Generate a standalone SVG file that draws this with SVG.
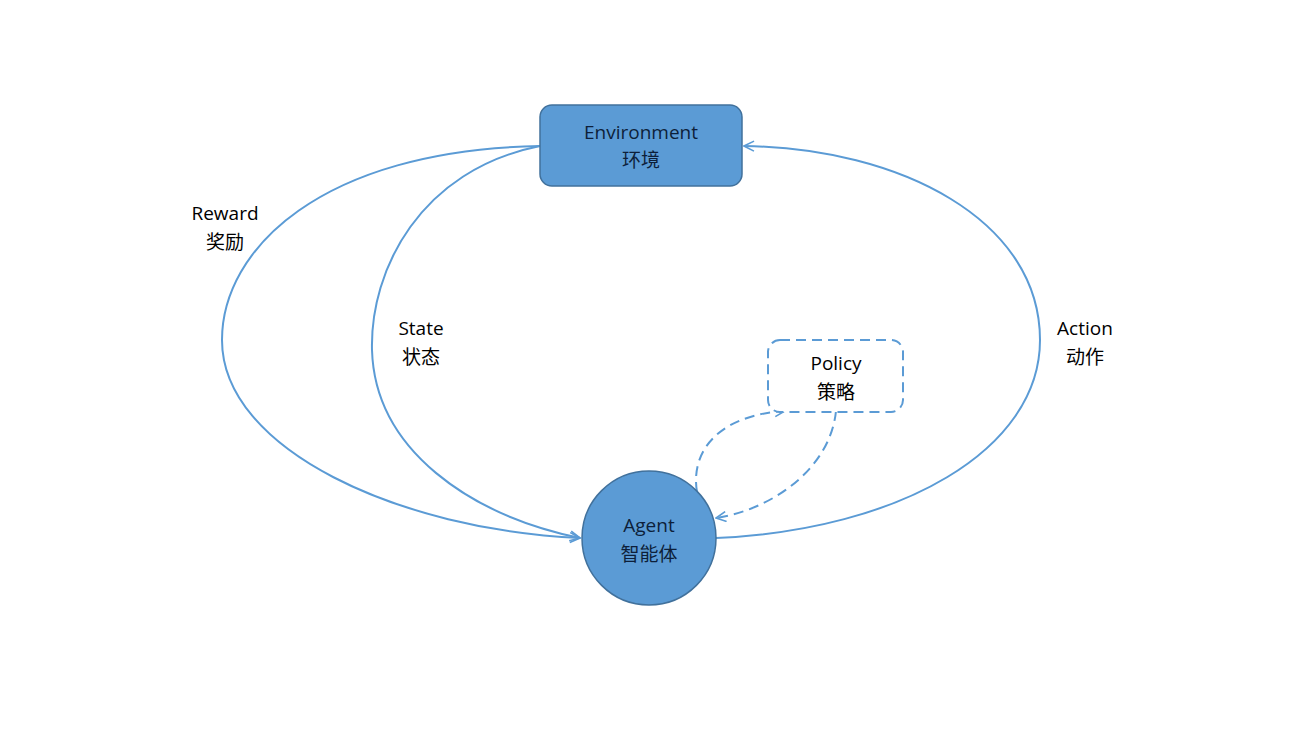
<svg xmlns="http://www.w3.org/2000/svg" width="1298" height="730" viewBox="0 0 1298 730">
<style>
.t{font-family:"Open Sans","Noto Sans CJK SC",sans-serif;font-size:19px;fill:#000;text-anchor:middle}
.tn{font-family:"Open Sans","Noto Sans CJK SC",sans-serif;font-size:19px;fill:#0d1f3a;text-anchor:middle}
.c{fill:none;stroke:#5b9bd5;stroke-width:2}
.d{fill:none;stroke:#5b9bd5;stroke-width:2;stroke-dasharray:10 6}
</style>
<defs><marker id="a" viewBox="0 0 12 12" refX="11" refY="6" markerWidth="12" markerHeight="12" markerUnits="userSpaceOnUse" orient="auto"><path d="M1,1 L11,6 L1,11" fill="none" stroke="#5b9bd5" stroke-width="1.6"/></marker></defs>
<rect width="1298" height="730" fill="#fff"/>
<g id="connectors">
<path class="c" d="M540,146 C 320,150 222,250 222,340 C 222,450 400,530 580,538" marker-end="url(#a)"/>
<path class="c" d="M540,146 C 420,170 370,270 372,350 C 375,450 470,515 580,538" marker-end="url(#a)"/>
<path class="c" d="M716,538 C 900,530 1040,450 1040,340 C 1040,220 900,148 744,146" marker-end="url(#a)"/>
<path class="d" d="M697,492 C 690,450 720,415 785,411" marker-end="url(#a)"/>
<path class="d" d="M836,411 C 830,470 770,510 716,518" marker-end="url(#a)"/>
</g>
<g id="environment"><rect x="540" y="105" width="202" height="81" rx="12" fill="#5b9bd5" stroke="#41719c" stroke-width="1.5"/>
<text class="tn" x="641" y="139">Environment</text><text class="tn" x="641" y="167">环境</text></g>
<g id="agent"><circle cx="649" cy="538" r="67" fill="#5b9bd5" stroke="#41719c" stroke-width="1.5"/>
<text class="tn" x="649" y="532">Agent</text><text class="tn" x="649" y="561">智能体</text></g>
<g id="policy"><rect x="768" y="340" width="135" height="72" rx="12" fill="#fff" stroke="#5b9bd5" stroke-width="2" stroke-dasharray="10 6"/>
<text class="t" x="836" y="370">Policy</text><text class="t" x="836" y="399">策略</text></g>
<g id="labels">
<text class="t" x="225" y="220">Reward</text><text class="t" x="225" y="249">奖励</text>
<text class="t" x="421" y="335">State</text><text class="t" x="421" y="364">状态</text>
<text class="t" x="1085" y="335">Action</text><text class="t" x="1085" y="364">动作</text>
</g>
</svg>
